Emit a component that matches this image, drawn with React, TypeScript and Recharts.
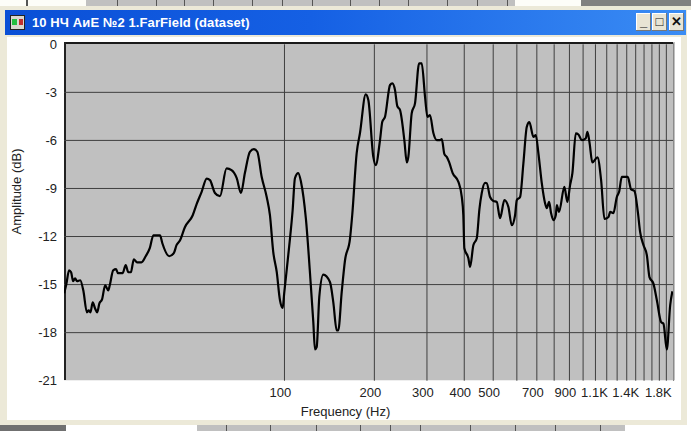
import React from "react";
import { LineChart, Line, XAxis, YAxis, CartesianGrid } from "recharts";

const freqHz = [18.3,18.6,19.0,19.3,19.6,19.9,20.2,20.7,21.2,21.8,22.1,22.4,22.8,23.2,23.6,24.0,24.5,25.1,25.7,26.0,26.7,27.3,27.7,28.7,29.4,30.0,30.6,31.3,32.1,33.2,34.3,35.4,36.4,37.3,38.3,39.0,41.1,42.6,43.5,44.7,46.4,49.3,50.8,52.8,54.9,56.3,58.5,60.8,64.0,66.5,69.2,71.5,73.7,76.6,79.0,81.1,83.9,87.2,89.4,91.7,94.2,96.6,98.6,99.8,103.8,106.5,108.4,111.2,113.6,118.0,122.4,124.9,126.5,128.2,130.8,134.9,142.0,145.7,149.6,151.4,155.5,159.5,165.8,168.7,174.5,179.0,187.1,190.9,198.4,202.1,208.9,212.6,217.1,225.7,229.8,234.5,238.7,243.8,252.0,256.8,259.9,266.7,273.7,282.4,288.1,295.6,301.0,307.1,315.2,323.5,332.0,336.4,343.2,349.4,355.7,365.8,382.3,392.4,397.1,400.3,412.9,418.3,429.0,440.5,449.5,457.7,469.6,475.8,488.0,500.8,514.0,527.0,545.1,562.0,577.0,591.8,599.6,615.2,631.1,647.8,660.8,681.6,694.3,708.4,727.2,745.8,755.8,769.4,781.2,795.5,810.1,816.6,830.6,865.4,885.7,904.5,920.8,945.2,964.4,990.2,1021,1034,1050,1074,1117,1149,1179,1216,1232,1263,1297,1320,1348,1411,1448,1485,1525,1552,1593,1635,1668,1720,1766,1825,1858,1907,1957,1991];
const amplitudeDb = [-15.54,-14.98,-14.11,-14.23,-14.79,-14.61,-14.79,-14.73,-15.36,-16.73,-16.61,-16.73,-16.11,-16.48,-16.73,-16.17,-15.92,-15.04,-15.36,-15.04,-14.11,-14.04,-14.29,-14.29,-13.79,-14.23,-14.23,-13.42,-13.61,-13.61,-13.23,-12.73,-11.92,-11.92,-11.92,-12.42,-13.23,-13.04,-12.54,-12.23,-11.42,-10.67,-9.98,-9.21,-8.38,-8.48,-9.28,-9.48,-7.75,-7.86,-8.36,-9.28,-8.04,-6.71,-6.54,-6.71,-8.28,-9.53,-10.67,-12.96,-14.21,-15.98,-16.46,-15.54,-12.54,-10.36,-8.36,-8.04,-8.59,-10.92,-14.92,-17.34,-19.04,-18.9,-15.77,-14.38,-14.84,-16.09,-17.86,-17.86,-15.46,-13.48,-12.11,-10.61,-6.79,-5.54,-3.13,-3.48,-7.03,-7.54,-5.98,-4.84,-4.53,-2.54,-2.44,-2.86,-3.86,-4.11,-5.98,-7.38,-7.03,-4.31,-3.67,-1.19,-1.19,-3.28,-4.53,-4.42,-5.54,-5.98,-5.98,-5.92,-6.86,-7.03,-7.34,-8.04,-8.59,-9.53,-10.67,-12.73,-13.36,-13.9,-12.54,-12.11,-10.3,-9.29,-8.65,-8.67,-9.53,-9.78,-9.84,-10.86,-9.73,-10.15,-11.29,-10.67,-9.73,-9.53,-7.42,-5.15,-4.86,-5.78,-5.67,-6.79,-8.67,-9.92,-10.23,-9.84,-10.54,-10.98,-10.67,-10.04,-10.46,-8.9,-9.84,-8.79,-8.04,-5.56,-5.63,-5.98,-5.86,-5.46,-6.09,-7.38,-7.06,-8.48,-10.9,-10.78,-10.46,-10.54,-9.53,-9.21,-8.28,-8.28,-9.06,-9.15,-10.46,-11.71,-12.54,-13.17,-14.53,-14.94,-15.98,-17.34,-17.44,-19.06,-16.29,-15.42];

const xTicks = [100,200,300,400,500,600,700,800,900,1000,1100,1200,1300,1400,1500,1600,1700,1800,1900];
const xLabels: Record<number, string> = { 100: "100", 200: "200", 300: "300", 400: "400", 500: "500", 700: "700", 900: "900", 1100: "1.1K", 1400: "1.4K", 1800: "1.8K" };
const yTicks = [-21,-18,-15,-12,-9,-6,-3,0];
const yGrid = [-18,-15,-12,-9,-6,-3];
const titleText = "10 НЧ АиЕ №2 1.FarField (dataset)";
const xAxisTitle = "Frequency (Hz)";
const yAxisTitle = "Amplitude (dB)";
const rows = freqHz.map((f, i) => ({ f, db: amplitudeDb[i] }));

const backTop = [117,156,184,213,252,282,312,350,379,408,447,477,507];
const backBottom = [226,270,316,360,390,420,470,515,555,600];

const box = (l: number, t: number, w: number, h: number, background: string, extra: any = {}) => (
  <div style={{ position: "absolute", left: l, top: t, width: w, height: h, background, ...extra }} />
);
const FONT = "'Liberation Sans', Arial, sans-serif";

const XTick = (p: any) => {
  const v = p.payload.value;
  const s = xLabels[v];
  if (!s) return <g />;
  const dx = v >= 1000 ? -1 : -4;
  return <text x={p.x + dx} y={397} textAnchor="middle" fontFamily={FONT} fontSize={13} fill="#222">{s}</text>;
};

const YTitle = () => (
  <text x={21} y={191.5} transform="rotate(-90 21 191.5)" textAnchor="middle" fontFamily={FONT} fontSize={13} fill="#222">{yAxisTitle}</text>
);

const winBtn = (l: number, s: string) => (
  <div style={{ position: "absolute", left: l, top: 13, width: 15, height: 18, background: "#e8e4d4", boxShadow: "inset -1px -1px 0 #777, inset 1px 1px 0 #fff", textAlign: "center", font: `bold 13px/18px ${FONT}`, color: "#111" }}>{s}</div>
);

export default function App() {
  return (
    <div style={{ position: "fixed", left: 0, top: 0, width: 691, height: 431, background: "#fff", overflow: "hidden" }}>
      {box(0, 0, 691, 10, "#fdfdf8")}
      {box(26, 0, 2, 6, "#555")}
      {box(86, 0, 429, 6, "#c0c0c0")}
      {backTop.map((x) => <React.Fragment key={x}>{box(x, 0, 1, 6, "#555")}</React.Fragment>)}
      {box(581, 0, 110, 6, "#808080")}
      {box(0, 6, 691, 4, "#ece9d8")}
      {box(0, 425, 66, 6, "#707070")}
      {box(197, 425, 428, 6, "#c0c0c0")}
      {backBottom.map((x) => <React.Fragment key={x}>{box(x, 425, 1, 6, "#555")}</React.Fragment>)}
      {box(0, 10, 687, 415, "#ece9d8")}
      {box(7, 37, 674, 383, "#fff")}
      <div style={{ position: "absolute", left: 5, top: 10, width: 681, height: 25, background: "linear-gradient(90deg,#0a4fd6 0%,#1560e4 45%,#3a8cf4 100%)" }} />
      {box(10, 15, 15, 15, "#d8d8d0", { boxShadow: "inset 0 0 0 1px #222" })}
      {box(12, 19, 5, 6, "#22c040")}
      {box(19, 19, 4, 6, "#c03030")}
      <div style={{ position: "absolute", left: 32, top: 13, color: "#fff", font: `bold 13px/19px 'Liberation Sans', sans-serif`, letterSpacing: 0.1, whiteSpace: "nowrap" }}>{titleText}</div>
      {winBtn(636, "_")}
      {winBtn(652, "□")}
      {winBtn(669, "✕")}

      {box(64, 42, 611, 339, "#c0c0c0")}
      {box(64, 42, 609, 1.5, "#1a1a1a")}
      {box(64, 42, 1.5, 339, "#222")}
      {box(64, 380, 611, 1, "#eeeeee")}
      {box(673, 43, 1, 338, "#8a8a8a")}

      <div style={{ position: "absolute", left: 0, top: 0 }}>
        <LineChart width={691} height={431} data={rows} margin={{ top: 44.3, right: 18, bottom: 0, left: 0 }}>
          <CartesianGrid stroke="#3f3f3f" strokeWidth={1} fill="none" horizontalValues={yGrid} verticalValues={xTicks} />
          <XAxis
            dataKey="f"
            type="number"
            scale="log"
            domain={[18.27, 2000]}
            ticks={xTicks}
            interval={0}
            height={50.3}
            allowDataOverflow
            axisLine={false}
            tickLine={false}
            tick={XTick}
            label={{ value: xAxisTitle, position: "insideBottom", offset: 15, fontFamily: FONT, fontSize: 13, fill: "#222", dx: -23 }}
          />
          <YAxis
            type="number"
            dataKey="db"
            domain={[-21, 0]}
            ticks={yTicks}
            interval={0}
            width={64}
            axisLine={false}
            tickLine={false}
            tickMargin={1}
            tick={{ fontFamily: FONT, fontSize: 13, fill: "#222" }}
            label={{ content: YTitle }}
          />
          <Line dataKey="db" type="monotoneX" stroke="#000" strokeWidth={2.2} dot={false} isAnimationActive={false} />
        </LineChart>
      </div>
    </div>
  );
}
